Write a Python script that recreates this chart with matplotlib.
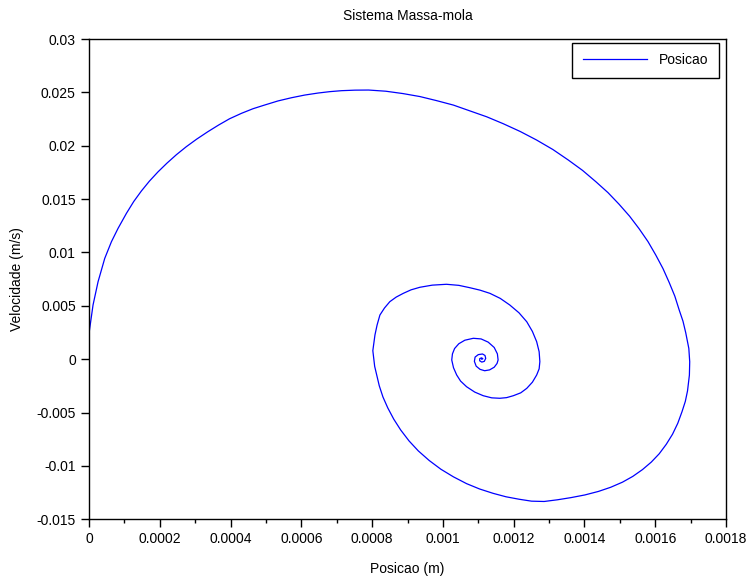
"""Sistema massa-mola: retrato de fase (posicao x velocidade)."""
import matplotlib
matplotlib.use('Agg')
import matplotlib.pyplot as plt
from matplotlib.ticker import MultipleLocator

plt.rcParams.update({
    'font.family': ['Liberation Sans', 'DejaVu Sans'],
    'font.size': 10,
    'figure.facecolor': 'white',
    'axes.facecolor': 'white',
})

# ============================================================
# Dados (posicao em m, velocidade em m/s)
# ============================================================
# volta externa
pos_externa = [
    0.0, 0.0000113, 0.0000255, 0.0000444, 0.0000633, 0.000082, 0.0001057,
    0.0001264, 0.0001479, 0.0001705, 0.0001948, 0.0002202, 0.0002468,
    0.0002748, 0.0003042, 0.000335, 0.0003661, 0.0003972,
    0.0004309, 0.0004634, 0.0004967, 0.0005341, 0.0005722, 0.0006096,
    0.0006474, 0.0006805, 0.0007136, 0.0007518, 0.00079,
    0.0008386, 0.0008869, 0.000935, 0.0009819, 0.0010297, 0.001076,
    0.0011241, 0.0011702, 0.0012183, 0.0012646, 0.0013107, 0.0013545,
    0.0013947, 0.0014323, 0.0014665, 0.0014979, 0.0015276, 0.0015544,
    0.0015796, 0.0016016, 0.001622, 0.0016395, 0.0016554, 0.0016678,
    0.0016785, 0.0016862, 0.001695, 0.0016975, 0.0016966, 0.0016913,
    0.0016851, 0.0016757, 0.0016638, 0.0016489, 0.0016313, 0.0016113,
    0.0015889, 0.0015641, 0.0015366, 0.0015075, 0.0014741, 0.0014394,
    0.0014009, 0.0013616, 0.001324, 0.0012861, 0.0012505, 0.0012154,
    0.0011784, 0.0011422, 0.0011038, 0.001067, 0.0010297, 0.0009944,
    0.0009613, 0.0009305, 0.0009042, 0.0008807, 0.0008612, 0.0008442,
    0.0008306, 0.0008202, 0.0008072,
]
vel_externa = [
    0.00243, 0.00508, 0.00726, 0.00945, 0.01101, 0.01226, 0.01367,
    0.01478, 0.01576, 0.01668, 0.01755, 0.01837, 0.01916,
    0.01991, 0.02062, 0.0213, 0.02194, 0.02253,
    0.02304, 0.02347, 0.02382, 0.0242, 0.0245, 0.02475,
    0.02494, 0.02507, 0.02516, 0.02521, 0.02522,
    0.02511, 0.02489, 0.02461, 0.02423, 0.02381, 0.02327,
    0.02271, 0.02207, 0.02134, 0.02054, 0.01965, 0.01866,
    0.01769, 0.01663, 0.01561, 0.01452, 0.0134, 0.01223,
    0.01102, 0.00976, 0.00849, 0.00719, 0.00591, 0.00461,
    0.00356, 0.00249, 0.00101, -0.00024, -0.00149, -0.00297,
    -0.00395, -0.00492, -0.006, -0.00703, -0.00797, -0.00886,
    -0.00964, -0.01034, -0.01098, -0.01152, -0.012, -0.01239,
    -0.01272, -0.01297, -0.01317, -0.01333, -0.0133, -0.01312,
    -0.01289, -0.01257, -0.01216, -0.01166, -0.01102, -0.01031,
    -0.00949, -0.00859, -0.00765, -0.00663, -0.00562, -0.00456,
    -0.00354, -0.00249, -0.00067,
]
# segunda volta
pos_meio = [
    0.000802, 0.000808, 0.000814, 0.000822, 0.000835, 0.00085, 0.000868,
    0.000888, 0.00091, 0.000935, 0.00097, 0.00101, 0.001045, 0.001076,
    0.001105, 0.001133, 0.001162, 0.001189, 0.001215, 0.001237, 0.001253,
    0.001265, 0.001272, 0.001274, 0.001272, 0.001265, 0.001253, 0.001237,
    0.00122, 0.001199, 0.00118, 0.001161, 0.001138, 0.001114, 0.00109,
    0.001067, 0.00105, 0.001039, 0.00103,
]
vel_meio = [
    0.0008, 0.00227, 0.0032, 0.00414, 0.0048, 0.00539, 0.00582,
    0.00617, 0.0065, 0.00674, 0.00694, 0.00702, 0.00692, 0.0067,
    0.00647, 0.00617, 0.0057, 0.00508, 0.00435, 0.00351, 0.0026,
    0.00164, 0.0007, -0.00023, -0.0009, -0.00148, -0.00215, -0.00273,
    -0.00315, -0.00342, -0.0036, -0.00366, -0.00362, -0.00342, -0.00308,
    -0.00258, -0.00205, -0.00148, -0.0008,
]
# voltas internas
pos_interna = [
    0.001025, 0.001027, 0.001033, 0.001045, 0.001062, 0.001086, 0.001108,
    0.001128, 0.001145, 0.001154, 0.001156, 0.001153, 0.001145, 0.001132,
    0.001118, 0.001105, 0.001094, 0.001089, 0.001091, 0.0011, 0.001112,
    0.001119, 0.001121, 0.001117, 0.00111, 0.001104, 0.001104, 0.001109,
    0.001113, 0.00111,
]
vel_interna = [
    -0.00007, 0.0005, 0.001, 0.00145, 0.00178, 0.00196, 0.0019,
    0.0016, 0.0011, 0.0005, -0.00007, -0.0004, -0.00075, -0.001,
    -0.00108, -0.00095, -0.00065, -0.0002, 0.0002, 0.00043, 0.00049,
    0.00035, 0.00008, -0.0002, -0.00027, -0.00015, 0.00005, 0.00013,
    0.00005, 0.0,
]

posicao = pos_externa + pos_meio + pos_interna
velocidade = vel_externa + vel_meio + vel_interna

x_ticks = [0, 0.0002, 0.0004, 0.0006, 0.0008, 0.001, 0.0012, 0.0014, 0.0016, 0.0018]
x_labels = ['0', '0.0002', '0.0004', '0.0006', '0.0008', '0.001', '0.0012',
            '0.0014', '0.0016', '0.0018']
y_ticks = [-0.015, -0.01, -0.005, 0, 0.005, 0.01, 0.015, 0.02, 0.025, 0.03]
y_labels = ['-0.015', '-0.01', '-0.005', '0', '0.005', '0.01', '0.015',
            '0.02', '0.025', '0.03']

# ============================================================
# Figura
# ============================================================
fig = plt.figure(figsize=(7.52, 5.79), dpi=100)
ax = fig.add_axes([0.1184, 0.1031, 0.847, 0.8295])

ax.plot(posicao, velocidade, color='#0000ff', lw=0.9, label='Posicao',
        solid_joinstyle='round')

ax.set_xlim(0, 0.0018)
ax.set_ylim(-0.015, 0.03)
ax.set_xticks(x_ticks)
ax.set_xticklabels(x_labels)
ax.set_yticks(y_ticks)
ax.set_yticklabels(y_labels)
ax.xaxis.set_minor_locator(MultipleLocator(0.0001))
ax.tick_params(axis='both', which='major', direction='out', length=5.5,
               width=1, pad=4, labelsize=10)
ax.tick_params(axis='x', which='minor', direction='out', length=3, width=1)
for s in ax.spines.values():
    s.set_linewidth(1.0)

ax.set_title('Sistema Massa-mola', fontsize=10, pad=14)
ax.set_xlabel('Posicao (m)', fontsize=10, labelpad=11)
ax.set_ylabel('Velocidade (m/s)', fontsize=10, labelpad=9)

leg = ax.legend(loc='upper right', bbox_to_anchor=(0.989, 0.992),
                fontsize=10, fancybox=False, edgecolor='black',
                framealpha=1, handlelength=4.6, borderpad=0.75,
                handletextpad=0.9, borderaxespad=0)
leg.get_frame().set_linewidth(1.0)

fig.savefig('out.png', dpi=100)
